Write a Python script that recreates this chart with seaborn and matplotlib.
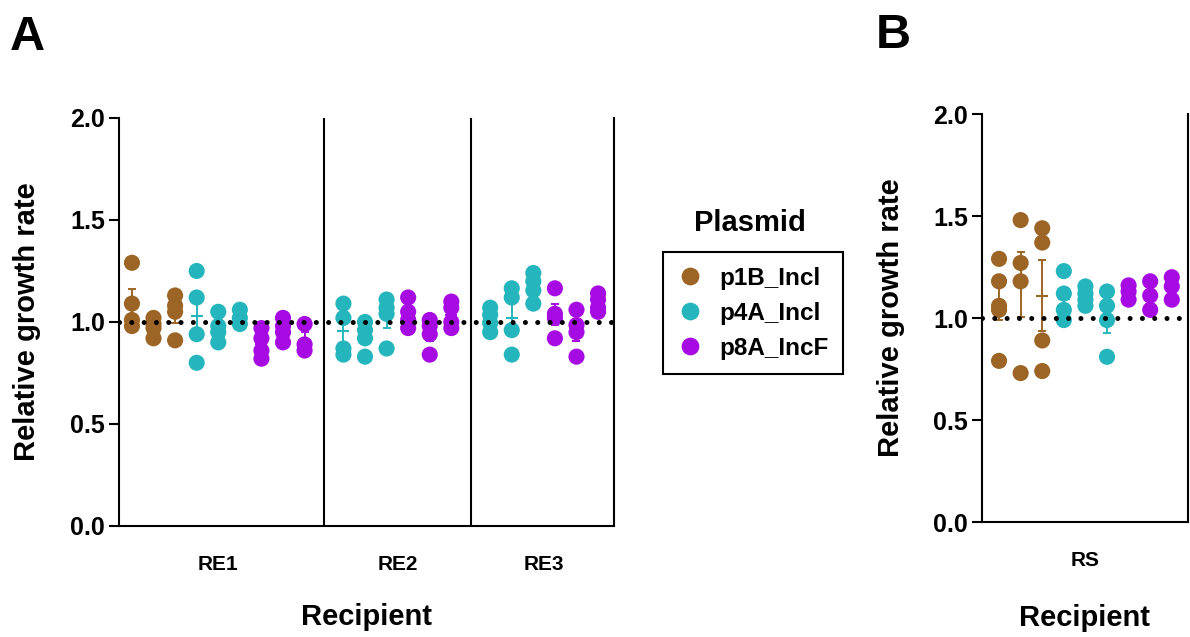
import numpy as np
import pandas as pd
import seaborn as sns
import matplotlib.pyplot as plt

sns.set_theme(style="ticks")
plt.rcParams["font.family"] = ["Liberation Sans", "DejaVu Sans"]
plt.rcParams["font.weight"] = "bold"
for key in ["text.color", "axes.labelcolor", "xtick.color", "ytick.color", "axes.edgecolor"]:
    plt.rcParams[key] = "black"

plasmids = ["p1B_Incl", "p4A_Incl", "p8A_IncF"]
colors = ["#9C6526", "#25B5BC", "#A60BE3"]

# relative growth rate, one inner list per transconjugant clone
re1_p1b = [[1.29, 1.09, 1.01, 0.98], [1.02, 0.99, 0.97, 0.92], [1.13, 1.08, 1.05, 0.91]]
re1_p4a = [[1.25, 1.12, 0.94, 0.80], [1.05, 0.98, 0.95, 0.90], [1.06, 1.02, 0.99]]
re1_p8a = [[0.97, 0.92, 0.86, 0.82], [1.02, 0.98, 0.95, 0.90], [0.99, 0.89, 0.86]]

re2_p4a = [[1.09, 1.02, 0.87, 0.84], [1.00, 0.96, 0.92, 0.83], [1.11, 1.07, 1.04, 0.87]]
re2_p8a = [[1.12, 1.05, 1.01, 0.97], [1.01, 0.98, 0.94, 0.84], [1.10, 1.07, 1.00, 0.97]]

re3_p4a = [[1.07, 1.035, 0.995, 0.95], [1.165, 1.12, 0.96, 0.84], [1.24, 1.20, 1.155, 1.09]]
re3_p8a = [[1.165, 1.04, 1.02, 0.92], [1.06, 0.985, 0.95, 0.83], [1.14, 1.11, 1.07, 1.05]]

rs_p1b = [[1.29, 1.18, 1.06, 1.04, 0.79], [1.48, 1.27, 1.18, 0.73], [1.44, 1.37, 0.89, 0.74]]
rs_p4a = [[1.23, 1.12, 1.04, 0.99], [1.155, 1.12, 1.09, 1.06], [1.13, 1.06, 0.99, 0.81]]
rs_p8a = [[1.16, 1.13, 1.09], [1.18, 1.11, 1.04], [1.20, 1.155, 1.09]]

panel_a = {
    "RE1": {"p1B_Incl": re1_p1b, "p4A_Incl": re1_p4a, "p8A_IncF": re1_p8a},
    "RE2": {"p4A_Incl": re2_p4a, "p8A_IncF": re2_p8a},
    "RE3": {"p4A_Incl": re3_p4a, "p8A_IncF": re3_p8a},
}
panel_b = {
    "RS": {"p1B_Incl": rs_p1b, "p4A_Incl": rs_p4a, "p8A_IncF": rs_p8a},
}


def to_long(groups, gap=0.8):
    rows = []
    centers = {}
    pos = 0.0
    for rec, plas in groups.items():
        first = pos
        for p in plasmids:
            if p not in plas:
                continue
            for clone in plas[p]:
                for v in clone:
                    rows.append({"recipient": rec, "plasmid": p, "x": pos, "value": v})
                pos += 1
        centers[rec] = (first + pos - 1) / 2
        pos += gap
    return pd.DataFrame(rows), centers


def draw(ax, df, centers, xlim):
    sns.scatterplot(data=df, x="x", y="value", hue="plasmid", hue_order=plasmids,
                    palette=colors, s=135, edgecolor="none", linewidth=0,
                    ax=ax, zorder=2)
    stats = df.groupby(["plasmid", "x"])["value"].agg(["mean", "sem"]).reset_index()
    for p, c in zip(plasmids, colors):
        st = stats[stats["plasmid"] == p]
        if st.empty:
            continue
        ax.errorbar(st["x"], st["mean"], yerr=st["sem"], fmt="none", ecolor=c,
                    elinewidth=1.4, capsize=3, capthick=1.4, zorder=3)
        ax.plot(st["x"], st["mean"], ls="none", marker="_", ms=9, mew=1.5,
                color=c, zorder=3)
    ax.axhline(1.0, color="black", lw=3.6, ls=(0, (0.01, 2.45)),
               dash_capstyle="round", zorder=4)
    ax.set_xlim(*xlim)
    ax.set_ylim(0, 2.0)
    ax.set_yticks([0, 0.5, 1.0, 1.5, 2.0])
    ax.set_yticklabels(["0.0", "0.5", "1.0", "1.5", "2.0"])
    ax.set_xticks(list(centers.values()))
    ax.set_xticklabels(list(centers.keys()))
    ax.tick_params(axis="x", length=0, pad=21, labelsize=15)
    ax.tick_params(axis="y", length=7, width=1.5, pad=3, labelsize=18)
    for lab in ax.get_xticklabels() + ax.get_yticklabels():
        lab.set_fontweight("bold")
    ax.spines["top"].set_visible(False)
    for s in ["left", "bottom", "right"]:
        ax.spines[s].set_linewidth(1.5)
        ax.spines[s].set_color("black")
    ax.set_xlabel("Recipient", fontsize=21, fontweight="bold")
    ax.set_ylabel("Relative growth rate", fontsize=21, fontweight="bold")


fig = plt.figure(figsize=(11.9, 6.37), dpi=100)
axA = fig.add_axes([0.1, 0.1743, 0.416, 0.6405])
axB = fig.add_axes([0.8252, 0.1805, 0.1731, 0.6405])

dfA, centersA = to_long(panel_a)
dfB, centersB = to_long(panel_b)

draw(axA, dfA, centersA, (-0.6, 22.34))
draw(axB, dfB, centersB, (-0.79, 8.75))

# separators between recipients in panel A
for x in [8.9, 15.7]:
    axA.axvline(x, color="black", lw=1.5, zorder=1)

axA.xaxis.set_label_coords(0.5, -0.19)
axB.xaxis.set_label_coords(0.5, -0.2)
axA.yaxis.set_label_coords(-0.158, 0.5)
axB.yaxis.set_label_coords(-0.375, 0.5)

handles, labels = axA.get_legend_handles_labels()
axA.get_legend().remove()
axB.get_legend().remove()
leg = fig.legend(handles, labels, loc="upper left",
                 bbox_to_anchor=(663 / 1190, 1 - 252 / 637), borderaxespad=0,
                 frameon=True, fancybox=False, framealpha=1, edgecolor="black",
                 prop={"weight": "bold", "size": 17.5}, borderpad=0.6,
                 handletextpad=0.7, labelspacing=0.5, handlelength=1.0,
                 markerscale=1.1)
leg.get_frame().set_linewidth(1.5)

fig.text(750 / 1190, 1 - 223 / 637, "Plasmid", ha="center", va="center",
         fontsize=21, fontweight="bold")
fig.text(10 / 1190, 1 - 50 / 637, "A", fontsize=35, fontweight="bold")
fig.text(876 / 1190, 1 - 48 / 637, "B", fontsize=35, fontweight="bold")

fig.savefig("out.png", dpi=100, facecolor="white")
